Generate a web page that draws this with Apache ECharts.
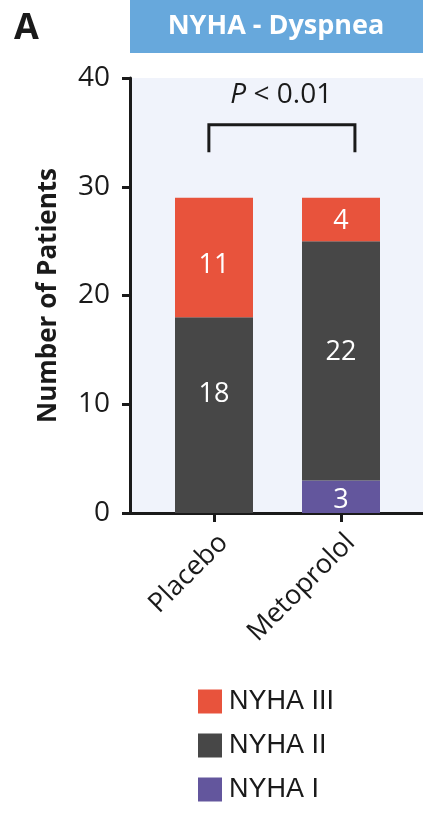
<!DOCTYPE html>
<html>
<head>
<meta charset="utf-8">
<script src="https://cdn.jsdelivr.net/npm/echarts@6/dist/echarts.min.js"></script>
<style>
  html, body { margin: 0; padding: 0; background: #ffffff; }
  #chart { width: 423px; height: 838px; }
</style>
</head>
<body>
<div id="chart"></div>
<script>
// Patients per NYHA dyspnea class, by treatment arm
const categories = ['Placebo', 'Metoprolol'];
const nyhaI   = [0, 3];
const nyhaII  = [18, 22];
const nyhaIII = [11, 4];
const yTicks  = [0, 10, 20, 30, 40];
const pValueText = '< 0.01';

// Significance bracket above the bars, in frame-axis units
const bracketPath = [[-0.04, 33.3], [-0.04, 35.7], [1.11, 35.7], [1.11, 33.3]];
const pLabelAt = [0.53, 38.4];

const COLORS = { I: '#63569d', II: '#474747', III: '#e8533c' };
const INK = '#1a1a1a';
const Y_MIN = yTicks[0];
const Y_MAX = yTicks[yTicks.length - 1];

function barSeries(name, vals, color, offsets) {
  return {
    name: name,
    type: 'bar',
    stack: 'total',
    xAxisIndex: 1,
    yAxisIndex: 1,
    barWidth: 78,
    itemStyle: { color: color },
    label: {
      show: true,
      position: 'inside',
      color: '#ffffff',
      fontFamily: 'Open Sans',
      fontSize: 27,
      formatter: p => (p.value ? String(p.value) : '')
    },
    data: vals.map((v, i) => ({
      value: v,
      label: offsets && offsets[i] ? { offset: offsets[i] } : undefined
    }))
  };
}

const chart = echarts.init(document.getElementById('chart'), null, { renderer: 'canvas' });

chart.setOption({
  animation: false,
  backgroundColor: '#ffffff',
  title: {
    text: 'A',
    left: 9,
    top: 6,
    textStyle: { fontFamily: 'Open Sans', fontWeight: 'bold', fontSize: 36, color: INK }
  },
  legend: {
    orient: 'vertical',
    left: 193,
    top: 683,
    itemWidth: 24,
    itemHeight: 24,
    itemGap: 17,
    icon: 'rect',
    data: ['NYHA III', 'NYHA II', 'NYHA I'],
    textStyle: { fontFamily: 'Liberation Sans', fontSize: 27, color: INK, padding: [0, 0, 0, 2] }
  },
  grid: [
    // frame: background, axis lines, y ticks and labels
    { left: 130, right: 0, top: 78, bottom: 325, show: true, backgroundColor: '#f0f3fb', borderWidth: 0 },
    // bars: one category slot per arm
    { left: 150.5, right: 18.5, top: 78, bottom: 325 }
  ],
  xAxis: [
    {
      gridIndex: 0,
      type: 'value',
      min: -0.661,
      max: 1.646,
      splitLine: { show: false },
      axisLine: { show: true, onZero: false, lineStyle: { color: INK, width: 3 } },
      axisTick: { show: false },
      axisLabel: { show: false }
    },
    {
      gridIndex: 1,
      type: 'category',
      data: categories,
      axisLine: { show: false },
      axisTick: { show: true, alignWithLabel: true, length: 9, lineStyle: { color: INK, width: 3 } },
      axisLabel: {
        rotate: 45,
        margin: 16,
        verticalAlign: 'top',
        fontFamily: 'Open Sans',
        fontSize: 27,
        color: INK
      }
    }
  ],
  yAxis: [
    {
      gridIndex: 0,
      type: 'value',
      min: Y_MIN,
      max: Y_MAX,
      interval: 10,
      name: 'Number of Patients',
      nameLocation: 'middle',
      nameRotate: 90,
      nameGap: 68,
      nameTextStyle: { fontFamily: 'Open Sans', fontWeight: 'bold', fontSize: 26, color: INK },
      splitLine: { show: false },
      axisLine: { show: true, onZero: false, lineStyle: { color: INK, width: 3 } },
      axisTick: { show: true, length: 8, lineStyle: { color: INK, width: 3 } },
      axisLabel: { margin: 20, fontFamily: 'Open Sans', fontSize: 28, color: INK }
    },
    {
      gridIndex: 1,
      type: 'value',
      min: Y_MIN,
      max: Y_MAX,
      show: false
    }
  ],
  graphic: [
    {
      type: 'rect',
      shape: { x: 130, y: 0, width: 293, height: 53 },
      style: { fill: '#67a8dc' }
    },
    {
      type: 'text',
      x: 276,
      y: 26,
      style: {
        text: 'NYHA - Dyspnea',
        fill: '#ffffff',
        font: 'bold 27px "Open Sans"',
        align: 'center',
        verticalAlign: 'middle'
      }
    }
  ],
  series: [
    barSeries('NYHA I', nyhaI, COLORS.I, [null, [0, 4]]),
    barSeries('NYHA II', nyhaII, COLORS.II, [[0, -21], [0, -8]]),
    barSeries('NYHA III', nyhaIII, COLORS.III, [[0, 8], [0, 2]]),
    {
      name: 'bracket',
      type: 'line',
      xAxisIndex: 0,
      yAxisIndex: 0,
      silent: true,
      symbol: 'none',
      lineStyle: { color: INK, width: 3, cap: 'square', join: 'miter' },
      data: bracketPath,
      markPoint: {
        symbol: 'rect',
        symbolSize: 1,
        itemStyle: { color: 'transparent' },
        label: {
          show: true,
          position: 'inside',
          formatter: '{i|P} ' + pValueText,
          fontFamily: 'Open Sans',
          fontSize: 28,
          color: INK,
          rich: {
            i: { fontFamily: 'Open Sans', fontStyle: 'italic', fontSize: 28, color: INK }
          }
        },
        data: [{ coord: pLabelAt }]
      }
    }
  ]
});
</script>
</body>
</html>
